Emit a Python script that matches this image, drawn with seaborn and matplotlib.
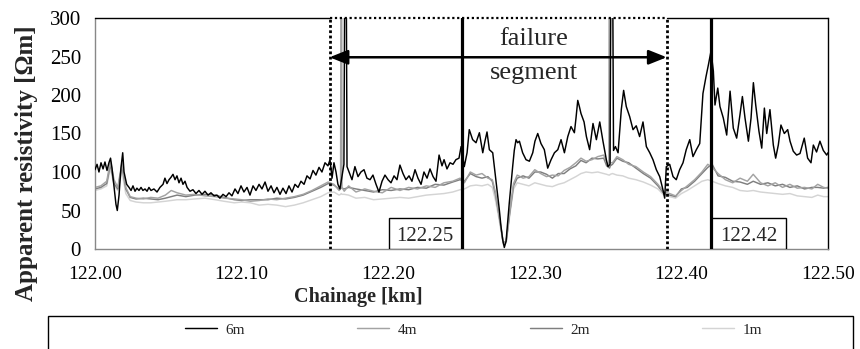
import numpy as np
import pandas as pd
import matplotlib
matplotlib.use("Agg")
import matplotlib.pyplot as plt
import seaborn as sns
from matplotlib.patches import Rectangle
from matplotlib.ticker import FuncFormatter

sns.set_theme(style="white")
plt.rcParams['font.family'] = ['Liberation Serif', 'DejaVu Serif']

# ---------------- data ----------------
KM_START = 122.0
# 6 m series: distance from 122.00 km in metres, resistivity in Ohm m
DIST_6M = [0, 1.4, 2.7, 4.1, 5.5, 6.8, 8.2, 9.5, 10.6, 11.6, 13.0, 14.3, 15.2, 16.4, 17.7, 18.9, 19.8,
           21.6, 23.2, 24.6, 25.9, 27.3, 28.6, 30.0, 31.4, 32.7, 34.1, 35.5, 36.8, 38.2, 40.2, 42.3,
           44.3, 46.4, 47.7, 49.1, 50.5, 51.8, 53.2, 54.6, 55.9, 57.3, 58.7, 60.0, 61.4, 62.8, 64.8,
           66.8, 68.9, 70.9, 73.0, 75.0, 77.1, 79.1, 81.2, 83.2, 85.2, 87.3, 89.4, 91.4, 93.4, 95.5,
           97.5, 99.6, 101.6, 103.7, 105.7, 107.8, 109.8, 111.9, 113.9, 116.0, 118.0, 120.1, 122.1,
           124.1, 126.2, 128.2, 130.3, 132.3, 134.4, 136.4, 138.5, 140.5, 142.6, 144.6, 146.7, 148.7,
           150.7, 152.8, 154.8, 156.9, 158.9, 160.3, 161.7, 163.0, 164.4, 165.7, 167.1, 168.5, 169.8,
           170.9, 171.9, 173.3, 175.3, 177.3, 179.4, 181.4, 183.5, 185.5, 187.6, 189.6, 191.7, 193.7,
           195.8, 197.8, 199.9, 201.9, 204.0, 206.0, 208.0, 210.1, 212.1, 214.2, 216.2, 218.3, 220.3,
           222.4, 224.4, 226.5, 228.5, 230.6, 232.6, 234.7, 236.7, 238.1, 240.1, 242.2, 244.2, 246.2,
           248.3, 249.7, 251.9, 253.8, 255.3, 256.5, 257.6, 259.9, 262.2, 264.5, 266.0, 267.4, 269.0,
           271.3, 272.4, 273.5, 274.7, 275.8, 276.9, 278.1, 279.2, 280.4, 281.5, 282.6, 283.8, 284.9,
           286.0, 287.2, 288.3, 289.5, 291.7, 294.0, 296.3, 298.6, 300.1, 302.0, 304.2, 306.5, 308.8,
           311.1, 313.4, 315.7, 317.9, 320.2, 322.5, 324.7, 327.0, 328.1, 329.3, 330.4, 331.5, 333.6,
           335.2, 337.4, 339.7, 342.0, 344.3, 346.5, 348.8, 349.9, 351.3, 352.5, 353.7, 355.0, 356.8,
           359.0, 360.6, 362.4, 364.7, 367.0, 369.2, 371.5, 373.8, 376.1, 378.4, 380.6, 382.9, 385.2,
           387.4, 388.6, 389.7, 392.0, 394.3, 396.5, 398.8, 401.1, 403.3, 405.7, 407.9, 410.2, 412.5,
           414.7, 416.8, 418.4, 420.2, 421.8, 422.9, 424.8, 426.3, 428.6, 430.9, 433.2, 435.4, 437.7,
           440.0, 441.6, 443.4, 445.7, 447.5, 449.1, 450.7, 452.9, 454.8, 456.6, 458.2, 460.4, 462.7,
           464.3, 466.1, 467.9, 470.2, 472.5, 474.1, 476.3, 478.6, 480.9, 483.8, 486.1, 488.4, 490.0,
           492.2, 494.5, 496.8, 499.1, 500.0]
RES_6M = [103, 110, 100, 112, 104, 113, 102, 112, 118, 105, 80, 58, 50, 70, 105, 125, 100,
          84, 80, 76, 82, 75, 79, 76, 80, 76, 78, 75, 80, 76, 78, 74,
          80, 84, 92, 85, 90, 93, 97, 90, 95, 86, 92, 84, 88, 80, 75,
          77, 72, 76, 71, 75, 70, 73, 69, 70, 66, 71, 68, 73, 69, 78,
          72, 82, 74, 80, 70, 82, 76, 84, 78, 87, 75, 82, 73,
          80, 71, 79, 72, 82, 74, 84, 80, 88, 84, 95, 91, 102,
          96, 106, 100, 112, 108, 116, 92, 112, 100, 84, 78, 95, 110,
          600, 107, 100, 90, 107, 94, 100, 103, 92, 90, 96, 84, 74,
          88, 96, 90, 86, 95, 90, 109, 98, 90, 95, 88, 103, 92,
          84, 100, 92, 104, 94, 88, 122, 108, 116, 104, 112, 110, 116,
          118, 133, 107, 125, 155, 148, 142, 138, 151, 125, 140, 152, 129,
          125, 107, 90, 70, 51, 30, 12, 2, 10, 35, 60, 85, 107,
          128, 142, 138, 140, 125, 116, 114, 125, 140, 150, 137, 129, 105,
          116, 125, 129, 142, 125, 146, 159, 151, 170, 193, 185, 176, 165,
          146, 129, 163, 142, 165, 140, 116, 107, 110, 600, 128, 133, 125,
          181, 206, 185, 172, 155, 160, 146, 165, 133, 125, 116, 103, 94,
          77, 66, 107, 110, 94, 90, 103, 112, 129, 142, 120, 129, 137,
          202, 224, 239, 257, 231, 187, 209, 185, 170, 148, 205, 157, 144,
          175, 198, 170, 140, 170, 216, 187, 153, 131, 183, 150, 181, 135,
          118, 135, 161, 150, 155, 140, 127, 122, 124, 144, 118, 112, 135,
          126, 140, 128, 122, 125]

# 4 m, 2 m, 1 m series share one set of distances
DIST_SHALLOW = [0, 4, 8, 10.5, 13, 15.5, 18.4, 21, 24, 28, 33, 38, 43, 48, 52, 56, 62, 68, 75, 82,
                88, 95, 100, 106, 112, 118, 124, 130, 136, 142, 148, 154, 159, 163, 166.5, 167.5,
                168.0, 168.5, 170, 173, 178, 184, 190, 196, 202, 208, 214, 220, 226, 232, 238, 244,
                249, 252, 256, 260, 264, 268, 271, 273, 275.5, 278.5, 280.5, 283, 285.5, 288, 292,
                296, 300, 304, 308, 312, 316, 320, 324, 328, 331.5, 335, 339, 343, 347, 349, 350.5,
                351.0, 351.5, 353, 356, 360, 364, 369, 374, 379, 384, 388, 392, 396, 400, 404, 409,
                414, 418, 421, 425, 430, 435, 440, 445, 449, 454, 459, 464, 469, 474, 479, 484, 489,
                493, 497, 500]
RES_4M = [80, 82, 88, 114, 90, 80, 112, 80, 68, 66, 65, 67, 66, 70, 76, 73, 70, 71, 69, 68,
          66, 65, 64, 62, 63, 65, 64, 66, 68, 71, 76, 82, 87, 84, 76, 78,
          600, 80, 75, 82, 74, 78, 75, 73, 80, 76, 80, 78, 82, 80, 86, 88,
          92, 86, 100, 96, 98, 92, 90, 75, 45, 8, 10, 50, 85, 96, 92,
          94, 103, 98, 94, 96, 95, 102, 106, 112, 118, 114, 116, 120, 122, 112, 110,
          600, 112, 112, 120, 116, 110, 107, 100, 94, 84, 74, 72, 69, 76, 82, 90,
          100, 110, 106, 98, 90, 86, 92, 88, 97, 86, 82, 86, 80, 84, 79, 80, 78,
          84, 80, 79]
RES_2M = [78, 80, 85, 110, 85, 78, 108, 78, 67, 65, 66, 65, 64, 66, 68, 70, 68, 70, 71, 70,
          67, 64, 63, 64, 64, 64, 66, 65, 67, 70, 75, 80, 85, 83, 78, 79,
          80, 79, 78, 80, 78, 76, 74, 77, 76, 78, 77, 80, 79, 84, 83, 87,
          90, 88, 98, 94, 92, 94, 88, 72, 45, 8, 10, 48, 82, 92, 95,
          92, 100, 100, 97, 92, 98, 98, 104, 108, 115, 112, 118, 117, 118, 108, 106,
          105, 108, 110, 118, 114, 112, 105, 98, 92, 82, 72, 70, 68, 78, 80, 88,
          98, 106, 110, 95, 93, 88, 87, 84, 88, 84, 86, 82, 84, 80, 82, 78, 80,
          80, 79, 80]
RES_1M = [76, 78, 82, 105, 82, 76, 100, 72, 63, 61, 60, 60, 61, 62, 63, 64, 64, 65, 66, 64,
          62, 60, 61, 60, 57, 58, 57, 55, 57, 60, 64, 68, 73, 74, 70, 71,
          72, 71, 71, 70, 66, 67, 64, 65, 66, 67, 66, 68, 70, 71, 72, 74,
          77, 78, 82, 83, 82, 84, 80, 65, 40, 6, 8, 45, 78, 86, 84,
          82, 86, 84, 82, 81, 84, 86, 90, 94, 98, 100, 99, 100, 98, 97, 96,
          96, 97, 98, 96, 95, 92, 90, 87, 83, 78, 70, 68, 66, 72, 76, 82,
          88, 90, 88, 85, 82, 80, 76, 75, 76, 74, 73, 72, 71, 72, 69, 68, 67,
          70, 68, 68]

SERIES = ["6m", "4m", "2m", "1m"]
COLORS = {"6m": "#000000", "4m": "#a3a3a3", "2m": "#7f7f7f", "1m": "#d4d4d4"}

X_TICKS = [122.0, 122.1, 122.2, 122.3, 122.4, 122.5]
Y_TICKS = [0, 50, 100, 150, 200, 250, 300]
FAIL_START, FAIL_END = 122.16, 122.39
MARK_A, MARK_B = 122.25, 122.42
MARK_A_LABEL, MARK_B_LABEL = "122.25", "122.42"

# ---------------- frame ----------------
frames = []
for name, dist, res in [("6m", DIST_6M, RES_6M), ("4m", DIST_SHALLOW, RES_4M),
                        ("2m", DIST_SHALLOW, RES_2M), ("1m", DIST_SHALLOW, RES_1M)]:
    frames.append(pd.DataFrame({"km": KM_START + np.array(dist) / 1000.0,
                                "res": res, "depth": name}))
df = pd.concat(frames, ignore_index=True)

fig = plt.figure(figsize=(8.6, 3.49), dpi=100)
ax = fig.add_axes([95 / 860, 1 - 249 / 349, 733 / 860, 231 / 349])

handles = {}
for name in ["1m", "2m", "4m", "6m"]:
    sub = df[df["depth"] == name]
    sns.lineplot(data=sub, x="km", y="res", ax=ax, color=COLORS[name], lw=1.05,
                 estimator=None, sort=False, legend=False, zorder=3 if name == "6m" else 2)
    handles[name] = ax.lines[-1]

ax.set_xlim(X_TICKS[0], X_TICKS[-1])
ax.set_ylim(Y_TICKS[0], Y_TICKS[-1])
ax.set_xticks(X_TICKS)
ax.set_yticks(Y_TICKS)
ax.xaxis.set_major_formatter(FuncFormatter(lambda v, p: f"{v:.2f}"))
ax.tick_params(axis="both", which="major", colors="#000000",
               direction="out", length=6, width=1, color="#888888")
ax.tick_params(axis="x", pad=6, labelsize=14)
ax.tick_params(axis="y", pad=4, labelsize=15)

for s in ["left", "bottom"]:
    ax.spines[s].set_color("#888888")
    ax.spines[s].set_linewidth(1)
ax.spines["right"].set_color("black")
ax.spines["right"].set_linewidth(1)
ax.spines["top"].set_visible(False)

ymax = Y_TICKS[-1]
ax.plot([X_TICKS[0], FAIL_START], [ymax, ymax], color="black", lw=1, clip_on=False, zorder=5)
ax.plot([FAIL_END, X_TICKS[-1]], [ymax, ymax], color="black", lw=1, clip_on=False, zorder=5)
ax.plot([FAIL_START, FAIL_END], [ymax, ymax], color="black", lw=1.6, ls=(0, (1, 1.2)),
        clip_on=False, zorder=5)

for xv in [FAIL_START, FAIL_END]:
    ax.axvline(xv, color="black", lw=2.0, ls=(0, (1, 0.9)), zorder=4)
for xv in [MARK_A, MARK_B]:
    ax.axvline(xv, color="black", lw=2.3, zorder=4)

arrow_y = 249
ax.annotate("", xy=(FAIL_START, arrow_y), xytext=(FAIL_END, arrow_y),
            arrowprops=dict(arrowstyle="<|-|>,head_length=0.55,head_width=0.22",
                            color="black", lw=1.8, mutation_scale=20, shrinkA=0, shrinkB=0),
            zorder=6)
mid = (FAIL_START + FAIL_END) / 2 + 0.0245
ax.text(mid, 273, "failure", ha="center", va="center", fontsize=19)
ax.text(mid, 228, "segment", ha="center", va="center", fontsize=19)

# value boxes next to the two marker lines
BOX_W, BOX_H = 0.0495, 40
ax.add_patch(Rectangle((MARK_A - BOX_W, 0), BOX_W, BOX_H, fc="white", ec="black", lw=1, zorder=3.5))
ax.add_patch(Rectangle((MARK_B, 0), BOX_W + 0.002, BOX_H, fc="white", ec="black", lw=1, zorder=3.5))
ax.text(MARK_A - BOX_W / 2, BOX_H / 2, MARK_A_LABEL, ha="center", va="center_baseline",
        fontsize=15, zorder=3.6)
ax.text(MARK_B + BOX_W / 2 + 0.001, BOX_H / 2, MARK_B_LABEL, ha="center", va="center_baseline",
        fontsize=15, zorder=3.6)

ax.set_ylabel("Apparent resistivity [Ωm]", fontsize=18, fontweight="bold")
ax.set_xlabel("Chainage [km]", fontsize=14.5, fontweight="bold")
ax.yaxis.set_label_coords(-0.078, 0.372)
ax.xaxis.set_label_coords(0.359, -0.166)

# legend
fig.patches.append(Rectangle((48 / 860, -0.2), 805 / 860, 0.2 + (349 - 316) / 349,
                             transform=fig.transFigure, fill=False, ec="black", lw=1))
fig.legend([handles[n] for n in SERIES], SERIES, loc="upper left",
           bbox_to_anchor=(185 / 860, 1 - 323 / 349), ncol=4, frameon=False,
           fontsize=11, handlelength=2.1, handletextpad=0.55, columnspacing=7.35,
           borderpad=0, borderaxespad=0)

fig.savefig("out.png", dpi=100)
